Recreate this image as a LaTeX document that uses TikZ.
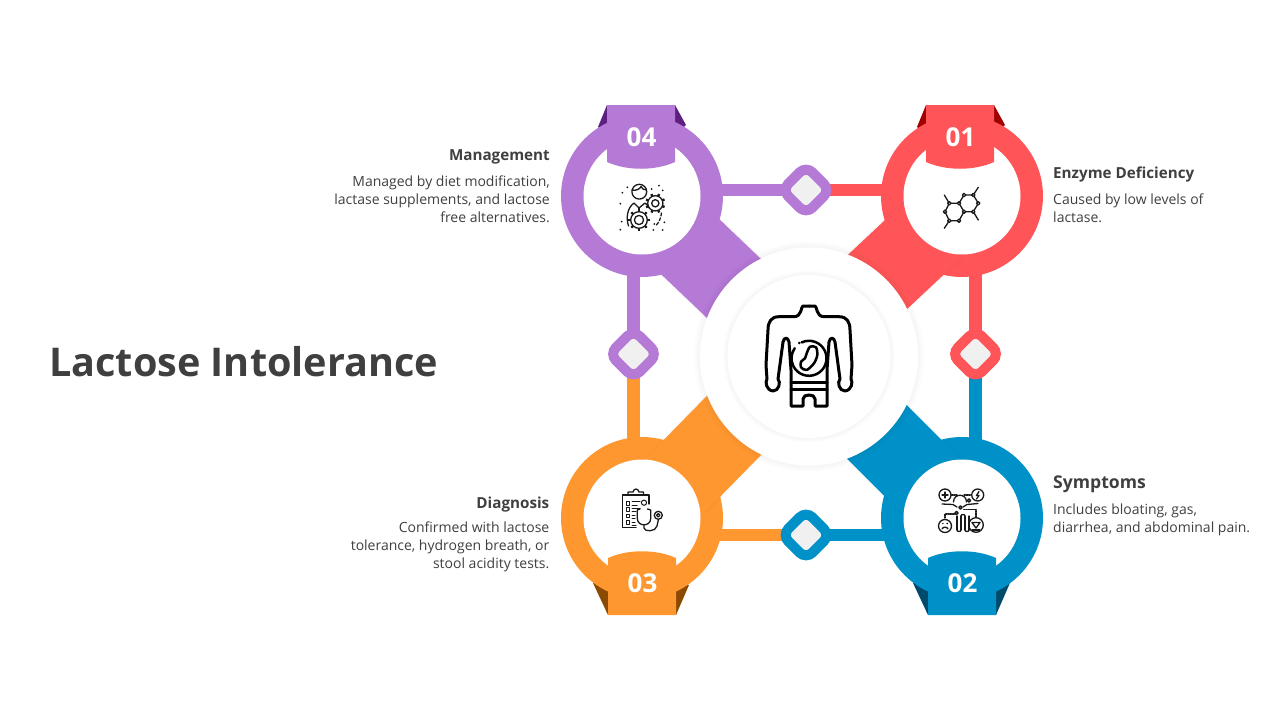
\documentclass[tikz,border=0pt]{standalone}
\usepackage{fontspec}
\setmainfont{Open Sans}
\definecolor{purpleC}{HTML}{B579D6}
\definecolor{redC}{HTML}{FF5558}
\definecolor{orangeC}{HTML}{FF9730}
\definecolor{blueC}{HTML}{0091C8}
\definecolor{purpleD}{HTML}{5E2080}
\definecolor{redD}{HTML}{A00000}
\definecolor{orangeD}{HTML}{8B4A00}
\definecolor{blueD}{HTML}{004A6B}
\definecolor{textC}{HTML}{3F3F3F}
\tikzset{
  ringnode/.style={circle, inner sep=0pt, outer sep=0pt, minimum size=162pt, fill=#1},
  holenode/.style={circle, inner sep=0pt, outer sep=0pt, minimum size=117pt, fill=white},
  wedgeline/.style={draw=#1, line width=80pt, preaction={draw=black, opacity=.025, line width=83pt}},
  barline/.style={draw=#1, line width=12.5pt},
  dianode/.style={rectangle, rotate=45, draw=#1, fill=black!6, line width=10pt, rounded corners=9pt, minimum size=34pt, inner sep=0pt},
  numnode/.style={text=white, font=\bfseries\fontsize{26}{30}\selectfont, inner sep=0pt},
  headnode/.style={text=textC, font=\bfseries\fontsize{15.2}{18}\selectfont, inner sep=0pt},
  bodynode/.style={text=textC, font=\fontsize{14}{18}\selectfont, inner sep=0pt},
  iconline/.style={draw=black!90, line width=1.3pt, line cap=round, line join=round},
  bodyline/.style={draw=black, line width=3pt, line cap=round, line join=round},
}
\begin{document}
\begin{tikzpicture}[x=1pt, y=-1pt]
\useasboundingbox (0,0) rectangle (1280,720);
\coordinate (w1a) at (935,228);
\coordinate (w1b) at (855,303);
\coordinate (w2a) at (932.5,487.5);
\coordinate (w2b) at (860,415);
\coordinate (w3a) at (676.5,484);
\coordinate (w3b) at (755,404);
\coordinate (w4a) at (680,237);
\coordinate (w4b) at (765,318);
% tails behind the rings
\fill[purpleD] (607,105) -- (598,127) -- (607,135) -- cycle;
\fill[purpleD] (675,105) -- (686,125) -- (675,135) -- cycle;
\fill[redD] (926,105) -- (917,127) -- (926,135) -- cycle;
\fill[redD] (994,105) -- (1005,125) -- (994,135) -- cycle;
\fill[orangeD] (608,615) -- (593,583) -- (608,583) -- cycle;
\fill[orangeD] (676,615) -- (689,585) -- (676,583) -- cycle;
\fill[blueD] (928,615) -- (913,583) -- (928,583) -- cycle;
\fill[blueD] (996,615) -- (1010,583) -- (996,583) -- cycle;
% rings and wedges
\draw[wedgeline=purpleC] (w4a) -- (w4b);
\node[ringnode=redC] (ring1) at (962,196) {};
\node[ringnode=blueC] (ring2) at (962,518) {};
\node[ringnode=orangeC] (ring3) at (642,518) {};
\node[ringnode=purpleC] (ring4) at (642,196) {};
\draw[wedgeline=redC] (w1a) -- (w1b);
\draw[wedgeline=blueC] (w2a) -- (w2b);
\draw[wedgeline=orangeC] (w3a) -- (w3b);
% bars and diamonds
\coordinate (dia1c) at (806,190);
\coordinate (dia2c) at (975.5,354);
\coordinate (dia3c) at (806,535);
\coordinate (dia4c) at (633.5,354);
\draw[barline=purpleC] (dia1c) -- (dia1c -| ring4);
\draw[barline=redC] (dia1c) -- (dia1c -| ring1);
\draw[barline=redC] (dia2c) -- (dia2c |- ring1);
\draw[barline=blueC] (dia2c) -- (dia2c |- ring2);
\draw[barline=orangeC] (dia3c) -- (dia3c -| ring3);
\draw[barline=blueC] (dia3c) -- (dia3c -| ring2);
\draw[barline=purpleC] (dia4c) -- (dia4c |- ring4);
\draw[barline=orangeC] (dia4c) -- (dia4c |- ring3);
\node[holenode] (hole1) at (ring1) {};
\node[holenode] (hole2) at (ring2) {};
\node[holenode] (hole3) at (ring3) {};
\node[holenode] (hole4) at (ring4) {};
\node[dianode=purpleC] (dia1) at (dia1c) {};
\node[dianode=redC] (dia2) at (dia2c) {};
\node[dianode=blueC] (dia3) at (dia3c) {};
\node[dianode=purpleC] (dia4) at (dia4c) {};
% hub
\foreach \d in {222,226,230}
  \fill[black, opacity=.01] (809,356.5) circle (\d/2);
\node[circle, fill=white, inner sep=0pt, minimum size=218pt] (hub) at (809,356.5) {};
\foreach \d in {166,169,172}
  \fill[black, opacity=.01] (hub) circle (\d/2);
\node[circle, fill=white, inner sep=0pt, minimum size=163pt] (hubin) at (hub) {};
% banners
\fill[purpleC] (607,105) -- (675,105) -- (675,162) .. controls (655,171) and (627,171) .. (607,162) -- cycle;
\fill[redC] (926,105) -- (994,105) -- (994,162) .. controls (974,171) and (946,171) .. (926,162) -- cycle;
\fill[orangeC] (608,615) -- (676,615) -- (676,558) .. controls (656,549) and (628,549) .. (608,558) -- cycle;
\fill[blueC] (928,615) -- (996,615) -- (996,558) .. controls (976,549) and (948,549) .. (928,558) -- cycle;
\node[numnode] (num1) at (960.5,137) {01};
\node[numnode] (num2) at (962.5,583) {02};
\node[numnode] (num3) at (642.5,583) {03};
\node[numnode] (num4) at (641.5,137) {04};
% hub icon
\foreach \s in {1,-1} {
  \draw[bodyline, shift={(809,0)}, xscale=\s] (0,306) -- (6,306) .. controls (8,306) and (7,316.7) .. (15,316.7) -- (30,316.7) .. controls (38,316.7) and (41,322) .. (41,330) -- (43,365) -- (42,379) .. controls (44,382) and (43,390) .. (36,391) .. controls (30,391) and (28,382) .. (31,379) -- (26,342) .. controls (25,337) and (21,337) .. (20,342) -- (18,370) -- (18,406) -- (6,406) -- (6,399) .. controls (6,396) and (3,395) .. (0,395);
}
\draw[bodyline] (791,382.7) -- (827,382.7);
\draw[bodyline] (791,389.3) -- (827,389.3);
\draw[bodyline, line width=2.5pt] (809,358.3) ++(-115:17.5) arc (-115:215:17.5);
\fill (799.3,343) circle (1.4);
\draw[bodyline, line width=2.5pt] plot[smooth cycle] coordinates {(810,346.7) (816,347.3) (817.3,355) (814,363.3) (806.7,370) (801,367.3) (801,361.7) (805,358.3) (806.7,353.3)};
% molecule
\draw[iconline] (945,211.7) -- (949.3,203.3) -- (959,203.3) -- (964,211.7) -- (959,220.7) -- (949.3,220.7) -- cycle;
\draw[iconline] (959,203.3) -- (964,195) -- (973.3,195) -- (978.3,203.3) -- (973.3,211.7) -- (964,211.7);
\draw[iconline] (949.3,203.3) -- (944.3,195);
\draw[iconline] (949.3,220.7) -- (944.3,228.3);
\draw[iconline] (973.3,195) -- (978.3,187.3);
\draw[iconline] (973.3,211.7) -- (978.3,220);
\foreach \p in {(945,211.7),(949.3,203.3),(959,203.3),(964,211.7),(959,220.7),(949.3,220.7),(964,195),(973.3,195),(978.3,203.3),(973.3,211.7)}
  \draw[iconline, fill=white] \p circle (1.7);
% symptoms
\draw[iconline] (945,495) circle (6);
\draw[iconline] (942,495) -- (948,495) (945,492) -- (945,498);
\draw[iconline] (977.7,495) circle (6);
\draw[iconline] (979,491.5) -- (976.5,495.5) -- (979,495.5) -- (976.5,499);
\draw[iconline] (945,526) circle (6.5);
\draw[iconline] (942,529) .. controls (943,526.5) and (947,526.5) .. (948,529);
\fill (942.8,523.5) circle (.8) (947.2,523.5) circle (.8);
\draw[iconline] (976,525) circle (7.3);
\draw[iconline] (972,522.5) -- (980,522.5) -- (976,528) -- cycle;
\draw[iconline] (972,530) -- (980,530);
\draw[iconline] (953.5,502) .. controls (953.5,493) and (966.5,493) .. (966.5,502);
\draw[iconline] (942,504) -- (953,504.5) -- (957,507) (978,503.5) -- (967,504.5) -- (963,507);
\draw[iconline] (957,516) -- (957,530) (961,516) -- (961,530) (965,516) -- (965,530) (969,516) -- (969,530);
\draw[iconline] (957,530) .. controls (957,532) and (961,532) .. (961,530);
\draw[iconline] (965,530) .. controls (965,532) and (969,532) .. (969,530);
\draw[iconline] (961,516) .. controls (961,514) and (965,514) .. (965,516);
\draw[iconline] (956.5,513) circle (1.6) (960.5,507.5) circle (1.6) (969,500.5) circle (1.6);
\draw[iconline, densely dotted] (945,518) -- (945,514) -- (955,514) (976,517) -- (976,509.5) -- (963,509.5) (951.5,495) -- (957,495) (964,495) -- (971,495);
% clipboard
\draw[iconline] (649,495) -- (622.3,495) -- (622.3,527.3) -- (636,527.3);
\draw[iconline] (649,495) -- (649,504);
\draw[iconline] (628,495) -- (628,492) -- (633,492) .. controls (634,488) and (638,488) .. (639,492) -- (643.5,492) -- (643.5,495);
\foreach \y in {503.3,509.3,516,522.3}
  \draw[iconline, line width=1pt] (626,\y-1.8) rectangle (629.5,\y+1.8);
\draw[iconline, line width=1pt] (632,501.5) -- (640,501.5) (632,505) -- (637,505) (632,508) -- (640,508) (632,511) -- (636,511) (632,515) -- (635,515) (632,518) -- (635,518) (632,522) -- (635,522) (632,525) -- (636,525);
\draw[iconline, line width=1pt] (644,502.7) circle (2.6);
\draw[iconline] (640,509) -- (637.3,510) -- (637.3,518.3) .. controls (637.3,527) and (650.7,527) .. (650.7,518.3) -- (650.7,510) -- (647.5,509);
\draw[iconline] (644,525) -- (644,528) .. controls (644,532) and (656,532) .. (657,526) -- (658.3,520);
\draw[iconline] (658.3,515.3) circle (4);
\draw[iconline] (658.3,515.3) circle (1.7);
% management
\draw[iconline] (639.3,191.7) circle (7.4);
\draw[iconline] (632,190) .. controls (636,191) and (640,189) .. (641,186.5) .. controls (642,189) and (644,190) .. (646.5,190);
\draw[iconline] (628.5,226) .. controls (626,218) and (627,208) .. (634,203) -- (639,208) -- (645,203) .. controls (647,204) and (648,206) .. (649,208);
\draw[iconline] (639,208) -- (639,210);
\foreach \a in {0,45,...,315} {
  \draw[iconline, line width=2.4pt, line cap=butt, shift={(639,220)}] (\a:7.5) -- (\a:10.8);
}
\draw[iconline, fill=white] (639,220) circle (8.3);
\draw[iconline] (639,220) circle (4.6);
\foreach \a in {22,67,...,337} {
  \draw[iconline, line width=2.4pt, line cap=butt, shift={(655.3,203.3)}] (\a:7) -- (\a:10);
}
\draw[iconline, fill=white] (655.3,203.3) circle (7.6);
\draw[iconline] (655.3,203.3) circle (3.6);
\draw[iconline, densely dashed] (661.5,213) .. controls (661,218) and (659,222) .. (656.5,225);
\foreach \p in {(627.3,187.3),(622.3,192.7),(620.3,203.7),(651.7,189),(659,185.7),(662.7,190.3),(620.3,229.7),(621.7,221.7),(654.3,224),(653.3,230),(662.7,230),(664.3,222.3)}
  \fill[black!90] \p circle (1);
% texts
\node[anchor=west, text=textC, inner sep=0pt, font=\bfseries\fontsize{39.6}{44}\selectfont] (title) at (49,361.5) {Lactose Intolerance};
\node[headnode, anchor=east] (head4) at (550,157) {Management};
\node[bodynode, anchor=east, align=right] (body4) at (550,199.5) {Managed by diet modification,\\lactase supplements, and lactose\\free alternatives.};
\node[headnode, anchor=west] (head1) at (1053,175) {Enzyme Deficiency};
\node[bodynode, anchor=west, align=left] (body1) at (1053,208.5) {Caused by low levels of\\lactase.};
\node[headnode, anchor=west, font=\bfseries\fontsize{17.6}{20}\selectfont] (head2) at (1053,484.5) {Symptoms};
\node[bodynode, anchor=west, align=left] (body2) at (1053,520) {Includes bloating, gas,\\diarrhea, and abdominal pain.};
\node[headnode, anchor=east] (head3) at (549.5,504.5) {Diagnosis};
\node[bodynode, anchor=east, align=right] (body3) at (549.5,547) {Confirmed with lactose\\tolerance, hydrogen breath, or\\stool acidity tests.};
\end{tikzpicture}
\end{document}
